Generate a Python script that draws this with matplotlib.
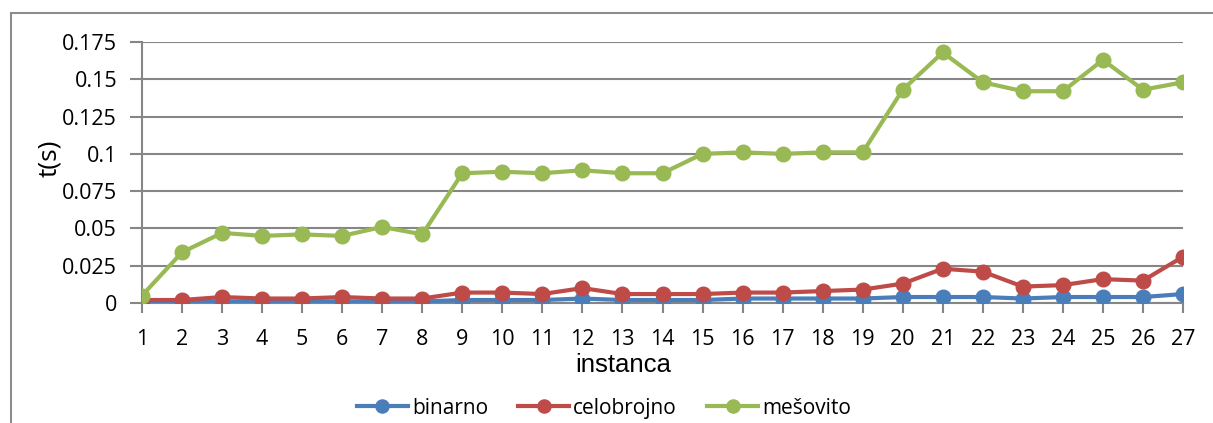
#!/usr/bin/env python3
"""
Vreme izvrsavanja po instancama: binarno / celobrojno / mesovito
izlaz: out.png
"""

import matplotlib
matplotlib.use('Agg')
import matplotlib.pyplot as plt
from matplotlib.patches import Rectangle

instance = list(range(1, 28))
binarno = [0.0005, 0.0005, 0.001, 0.001, 0.001, 0.001, 0.001, 0.001, 0.002,
           0.002, 0.002, 0.003, 0.002, 0.002, 0.002, 0.003, 0.003, 0.003,
           0.003, 0.004, 0.004, 0.004, 0.003, 0.004, 0.004, 0.004, 0.006]
celobrojno = [0.002, 0.002, 0.004, 0.003, 0.003, 0.004, 0.003, 0.003, 0.007,
              0.007, 0.006, 0.010, 0.006, 0.006, 0.006, 0.007, 0.007, 0.008,
              0.009, 0.013, 0.023, 0.021, 0.011, 0.012, 0.016, 0.015, 0.031]
mesovito = [0.005, 0.034, 0.047, 0.045, 0.046, 0.045, 0.051, 0.046, 0.087,
            0.088, 0.087, 0.089, 0.087, 0.087, 0.100, 0.101, 0.100, 0.101,
            0.101, 0.143, 0.168, 0.148, 0.142, 0.142, 0.163, 0.143, 0.148]
y_ticks = [0, 0.025, 0.05, 0.075, 0.1, 0.125, 0.15, 0.175]
y_labels = ['0', '0.025', '0.05', '0.075', '0.1', '0.125', '0.15', '0.175']

plt.rcParams['font.family'] = ['Open Sans', 'DejaVu Sans']

fig = plt.figure(figsize=(12.13, 4.23), dpi=100)
ax = fig.add_axes([142 / 1213, 1 - 303 / 423, (1183 - 142) / 1213, (303 - 42) / 423])

# okvir oko grafika
fig.patches.append(Rectangle((11 / 1213, -0.1), 1.2, 1.1 - 13 / 423,
                             transform=fig.transFigure, fill=False,
                             edgecolor='#8c8c8c', linewidth=1.5))

ax.plot(instance, binarno, 'o-', color='#4a7ebb', linewidth=3, markersize=10.5,
        label='binarno', zorder=3)
ax.plot(instance, celobrojno, 'o-', color='#be4b48', linewidth=3, markersize=10.5,
        label='celobrojno', zorder=4)
ax.plot(instance, mesovito, 'o-', color='#98b954', linewidth=3, markersize=10.5,
        label='mešovito', zorder=5)

ax.set_xlim(1, 27)
ax.set_ylim(0, 0.175)
ax.set_xticks(instance)
ax.set_yticks(y_ticks)
ax.set_yticklabels(y_labels)
ax.tick_params(axis='both', labelsize=15.5, colors='#868686', labelcolor='black')
ax.tick_params(axis='y', length=9, width=1.5, pad=9)
ax.tick_params(axis='x', length=7, width=1.5, pad=12)

ax.grid(True, axis='y', color='#868686', linewidth=1.5)
ax.set_axisbelow(True)
for s in ['top', 'right']:
    ax.spines[s].set_visible(False)
ax.spines['left'].set_color('#868686')
ax.spines['left'].set_linewidth(1.5)
ax.spines['bottom'].set_color('#868686')
ax.spines['bottom'].set_linewidth(1.5)

ax.set_ylabel('t(s)', fontsize=19)
ax.yaxis.set_label_coords((50 - 142) / 1041, (303 - 158) / 261)
ax.yaxis.label.set_va('center')
ax.set_xlabel('instanca', fontsize=18.5, family='Liberation Sans')
ax.xaxis.set_label_coords((623 - 142) / 1041, (303 - 365) / 261)
ax.xaxis.label.set_va('center')

fig.legend(loc='center', bbox_to_anchor=(604 / 1213, 1 - 408 / 423), ncol=3,
           frameon=False, fontsize=15, handlelength=2.45, columnspacing=1.45,
           handletextpad=0.2, markerscale=0.9)

plt.savefig('out.png', dpi=100, facecolor='white')
